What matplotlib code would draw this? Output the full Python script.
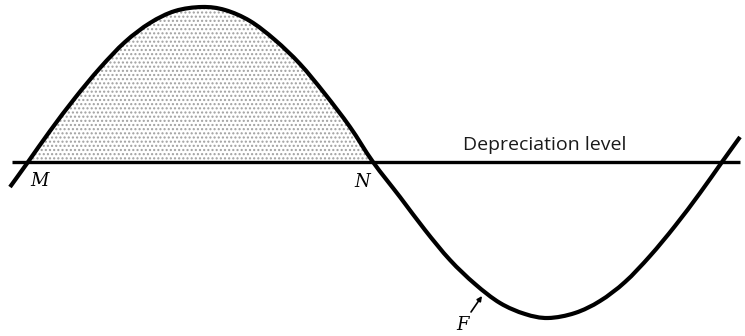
import matplotlib
matplotlib.use("Agg")
import matplotlib.pyplot as plt
from matplotlib.path import Path
from matplotlib.patches import PathPatch
import numpy as np

# Curve: position along the time axis and level
# relative to the depreciation level (positive = above the line)
curve_x = [10, 28, 50, 75, 100, 125, 150, 175, 202, 225, 250, 275, 300, 325, 350,
           373, 400, 425, 450, 475, 500, 525, 548, 575, 600, 625, 650, 675, 700,
           722, 740]
curve_y = [-25, 0, 31, 64, 94, 120, 139, 151, 155, 152, 141, 122, 98, 68, 35,
           0, -35, -68, -98, -122, -141, -152, -156, -151, -139, -120, -94, -64, -31,
           0, 25]

level_start = 12
level_end = 740
level_value = 0

point_M = 28
point_N = 373
label_text = "Depreciation level"


def smooth_segments(xs, ys):
    """Catmull-Rom through the read points, as cubic Bezier path pieces."""
    pts = np.column_stack([xs, ys]).astype(float)
    n = len(pts)
    verts = [pts[0]]
    codes = [Path.MOVETO]
    for i in range(n - 1):
        p0 = pts[i - 1] if i > 0 else pts[i]
        p1 = pts[i]
        p2 = pts[i + 1]
        p3 = pts[i + 2] if i + 2 < n else pts[i + 1]
        c1 = p1 + (p2 - p0) / 6.0
        c2 = p2 - (p3 - p1) / 6.0
        verts += [c1, c2, p2]
        codes += [Path.CURVE4] * 3
    return verts, codes


fig = plt.figure(figsize=(7.45, 3.36), dpi=100)
ax = fig.add_axes([0, 0, 1, 1])
ax.set_xlim(0, 745)
ax.set_ylim(-174, 162)
ax.axis("off")

cx = np.array(curve_x)
cy = np.array(curve_y)

# shaded hump between M and N
i0 = int(np.where(cx == point_M)[0][0])
i1 = int(np.where(cx == point_N)[0][0])
fv, fc = smooth_segments(cx[i0:i1 + 1], cy[i0:i1 + 1])
fv = list(fv) + [(point_M, level_value), (point_M, level_value)]
fc = list(fc) + [Path.LINETO, Path.CLOSEPOLY]
ax.add_patch(PathPatch(Path(fv, fc), facecolor="none", edgecolor="#a0a0a0",
                       hatch="....", linewidth=0))

ax.plot([level_start, level_end], [level_value, level_value], color="black",
        lw=2.4, solid_capstyle="butt")

v, c = smooth_segments(cx, cy)
ax.add_patch(PathPatch(Path(v, c), facecolor="none", edgecolor="black",
                       lw=3.0, capstyle="butt"))

ax.text(463, 12, label_text, fontsize=14, family="Open Sans", color="#1a1a1a",
        ha="left", va="baseline")
ax.text(30, -24, "M", fontsize=13, family="DejaVu Serif", style="italic",
        ha="left", va="baseline")
ax.text(354, -25, "N", fontsize=13, family="DejaVu Serif", style="italic",
        ha="left", va="baseline")
ax.text(456, -168, "F", fontsize=13, family="DejaVu Serif", style="italic",
        ha="left", va="baseline")
ax.annotate("", xy=(482, -134), xytext=(471, -150),
            arrowprops=dict(arrowstyle="-|>", color="black", lw=1.2,
                            mutation_scale=7, shrinkA=0, shrinkB=0))

fig.savefig("out.png", dpi=100, facecolor="white")
